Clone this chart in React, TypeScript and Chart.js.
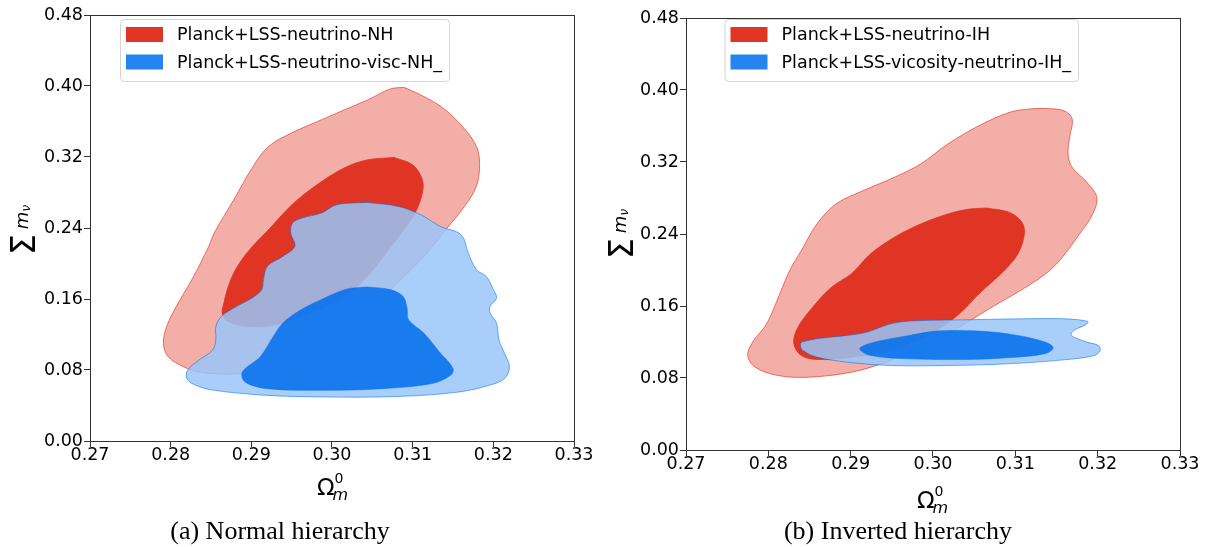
import React, { useEffect, useRef } from "react";
import { Chart, registerables } from "chart.js";

Chart.register(...registerables);

type Pt = [number, number];

// ---------- tick labels ----------
const xTicks = [0.27, 0.28, 0.29, 0.3, 0.31, 0.32, 0.33];
const yTicks = [0, 0.08, 0.16, 0.24, 0.32, 0.4, 0.48];

// ---------- legends / captions ----------
const nhLegend = ["Planck+LSS-neutrino-NH", "Planck+LSS-neutrino-visc-NH_"];
const ihLegend = ["Planck+LSS-neutrino-IH", "Planck+LSS-vicosity-neutrino-IH_"];
const captions = ["(a) Normal hierarchy", "(b) Inverted hierarchy"];

// ---------- contour outlines (Omega_m, sum m_nu) ----------
const nhRedOuter: Pt[] = [
  [0.3089, 0.3985], [0.311, 0.39], [0.3138, 0.375], [0.3164, 0.352], [0.3179, 0.332],
  [0.3183, 0.313], [0.3179, 0.287], [0.3164, 0.264], [0.3141, 0.238], [0.3112, 0.206],
  [0.3063, 0.163], [0.3015, 0.129], [0.2968, 0.1025], [0.293, 0.0855], [0.2892, 0.0768],
  [0.2868, 0.0753], [0.2835, 0.0779], [0.2816, 0.0836], [0.2797, 0.0949], [0.2791, 0.11],
  [0.2795, 0.129], [0.2807, 0.1517], [0.2826, 0.1814], [0.2847, 0.2189], [0.2854, 0.2344],
  [0.2878, 0.2715], [0.2902, 0.3091], [0.2921, 0.3316], [0.2949, 0.3467], [0.2977, 0.358],
  [0.3015, 0.373], [0.3044, 0.3842], [0.3072, 0.3966],
];
const nhRedInner: Pt[] = [
  [0.3077, 0.3195], [0.31, 0.3112], [0.3112, 0.2944], [0.3112, 0.2793], [0.3103, 0.257],
  [0.3086, 0.2343], [0.3067, 0.2118], [0.3044, 0.1856], [0.3015, 0.163], [0.2968, 0.1422],
  [0.293, 0.1309], [0.2897, 0.129], [0.2871, 0.1347], [0.2864, 0.1442], [0.2866, 0.1555],
  [0.287, 0.1701], [0.2877, 0.1871], [0.2888, 0.204], [0.2903, 0.2209], [0.2921, 0.2377],
  [0.295, 0.2659], [0.2981, 0.2885], [0.3015, 0.3076], [0.3043, 0.3166],
];
const nhBlueOuter: Pt[] = [
  [0.3044, 0.2688], [0.3082, 0.2643], [0.311, 0.255], [0.3134, 0.2419], [0.316, 0.2325],
  [0.3169, 0.2118], [0.3179, 0.193], [0.3191, 0.1857], [0.32, 0.1706], [0.3204, 0.1612],
  [0.3196, 0.1517], [0.3196, 0.1442], [0.3204, 0.1328], [0.3207, 0.1139], [0.3214, 0.0987],
  [0.322, 0.0836], [0.3214, 0.0704], [0.3195, 0.0628], [0.3157, 0.0552], [0.3086, 0.0503],
  [0.3001, 0.0495], [0.292, 0.0514], [0.2854, 0.0571], [0.2831, 0.0628], [0.282, 0.0704],
  [0.2821, 0.0798], [0.2835, 0.0912], [0.2852, 0.1025], [0.2856, 0.1139], [0.2856, 0.129],
  [0.2863, 0.1404], [0.2882, 0.1517], [0.2901, 0.1612], [0.2913, 0.1706], [0.2915, 0.182],
  [0.292, 0.197], [0.2939, 0.208], [0.2954, 0.2194], [0.2949, 0.2343], [0.2951, 0.2456],
  [0.2963, 0.2512], [0.2987, 0.2568], [0.3006, 0.2662],
];
const nhBlueInner: Pt[] = [
  [0.3044, 0.1736], [0.3072, 0.1706], [0.3088, 0.163], [0.3093, 0.15], [0.3095, 0.1366],
  [0.3114, 0.1214], [0.3133, 0.1006], [0.315, 0.0817], [0.3147, 0.0741], [0.3124, 0.0647],
  [0.3063, 0.059], [0.2991, 0.0571], [0.292, 0.059], [0.2892, 0.0666], [0.2889, 0.0779],
  [0.2911, 0.0949], [0.2927, 0.1176], [0.2939, 0.1328], [0.2958, 0.146], [0.2991, 0.1612],
  [0.3019, 0.1713],
];

const ihRedOuter: Pt[] = [
  [0.3136, 0.3796], [0.3159, 0.377], [0.3169, 0.3678], [0.3166, 0.3474], [0.3164, 0.3289],
  [0.3169, 0.3141], [0.3187, 0.2974], [0.3199, 0.2807], [0.3194, 0.2622], [0.3178, 0.24],
  [0.315, 0.2067], [0.3125, 0.188], [0.3065, 0.1551], [0.3018, 0.1291], [0.2971, 0.1087],
  [0.2943, 0.0976], [0.2901, 0.0865], [0.2849, 0.0809], [0.2812, 0.0827], [0.2784, 0.092],
  [0.2775, 0.105], [0.2781, 0.1199], [0.2798, 0.1403], [0.2814, 0.1737], [0.2826, 0.1996],
  [0.284, 0.2215], [0.2859, 0.2511], [0.2882, 0.2733], [0.2915, 0.2881], [0.2953, 0.303],
  [0.2985, 0.3178], [0.3018, 0.34], [0.3056, 0.3604], [0.3093, 0.3752], [0.3117, 0.3789],
];
const ihRedInner: Pt[] = [
  [0.3065, 0.2689], [0.3093, 0.264], [0.3108, 0.253], [0.3111, 0.24], [0.3103, 0.2178],
  [0.3085, 0.198], [0.3056, 0.1737], [0.3032, 0.1514], [0.3004, 0.1328], [0.2971, 0.118],
  [0.2939, 0.1087], [0.2896, 0.1024], [0.2859, 0.1006], [0.284, 0.105], [0.2831, 0.118],
  [0.2835, 0.1347], [0.2854, 0.1588], [0.2877, 0.1811], [0.2901, 0.1959], [0.2924, 0.2178],
  [0.2953, 0.2363], [0.2985, 0.2511], [0.3018, 0.2622], [0.3042, 0.2674],
];
const ihBlueOuter: Pt[] = [
  [0.284, 0.1199], [0.2859, 0.1236], [0.2896, 0.1273], [0.292, 0.131], [0.2946, 0.1395],
  [0.2971, 0.1432], [0.3042, 0.1447], [0.3112, 0.1458], [0.3159, 0.1458], [0.3188, 0.1429],
  [0.3186, 0.1395], [0.3171, 0.1328], [0.3168, 0.1273], [0.3187, 0.1199], [0.3201, 0.1161],
  [0.3203, 0.1106], [0.3196, 0.105], [0.3159, 0.1002], [0.3089, 0.0957], [0.3018, 0.0939],
  [0.2948, 0.0939], [0.2896, 0.0976], [0.2859, 0.1032], [0.2842, 0.1106], [0.2839, 0.1162],
];
const ihBlueInner: Pt[] = [
  [0.3032, 0.1328], [0.3065, 0.1317], [0.3103, 0.1273], [0.3136, 0.1199], [0.3146, 0.1135],
  [0.3136, 0.1069], [0.3089, 0.1024], [0.3042, 0.1006], [0.2971, 0.1013], [0.2924, 0.105],
  [0.2911, 0.1124], [0.2924, 0.1187], [0.2971, 0.1273], [0.3004, 0.1321],
];

// ---------- styling ----------
const RED = "rgb(224,52,36)";
const RED_LIGHT = "rgb(243,174,167)";
const BLUE = "rgba(0,111,237,0.85)";
const BLUE_LIGHT = "rgba(153,197,248,0.85)";
const SPINE = "#333333";
const SANS = "'DejaVu Sans', sans-serif";

const W = 603;
const H = 547;

interface Panel {
  offsetX: number;
  area: { l: number; r: number; t: number; b: number };
  polys: { redOuter: Pt[]; redInner: Pt[]; blueOuter: Pt[]; blueInner: Pt[] };
  legend: string[];
  legendDx: number;
  legendDy: number;
  yTitle: { x: number; y: number };
  xTitle: { x: number; base: number; supBase: number; subBase: number };
}

const panels: Panel[] = [
  {
    offsetX: 0,
    area: { l: 90, r: 574, t: 15, b: 441 },
    polys: { redOuter: nhRedOuter, redInner: nhRedInner, blueOuter: nhBlueOuter, blueInner: nhBlueInner },
    legend: nhLegend,
    legendDx: 30,
    legendDy: 4,
    yTitle: { x: 35, y: 255 },
    xTitle: { x: 317, base: 495, supBase: 483, subBase: 500 },
  },
  {
    offsetX: 603,
    area: { l: 83, r: 577, t: 18, b: 450 },
    polys: { redOuter: ihRedOuter, redInner: ihRedInner, blueOuter: ihBlueOuter, blueInner: ihBlueInner },
    legend: ihLegend,
    legendDx: 38.5,
    legendDy: 1,
    yTitle: { x: 30, y: 259 },
    xTitle: { x: 314, base: 508, supBase: 496, subBase: 513 },
  },
];

function toData(poly: Pt[]) {
  const pts = poly.map(([x, y]) => ({ x, y }));
  pts.push({ x: poly[0][0], y: poly[0][1] });
  return pts;
}

function contour(poly: Pt[], bg: string, border: string, bw: number, order: number) {
  return {
    data: toData(poly),
    showLine: true,
    fill: "shape",
    backgroundColor: bg,
    borderColor: border,
    borderWidth: bw,
    pointRadius: 0,
    pointHoverRadius: 0,
    tension: 0.35,
    order,
  };
}

function roundRect(ctx: CanvasRenderingContext2D, x: number, y: number, w: number, h: number, r: number) {
  ctx.beginPath();
  ctx.moveTo(x + r, y);
  ctx.lineTo(x + w - r, y);
  ctx.arcTo(x + w, y, x + w, y + r, r);
  ctx.lineTo(x + w, y + h - r);
  ctx.arcTo(x + w, y + h, x + w - r, y + h, r);
  ctx.lineTo(x + r, y + h);
  ctx.arcTo(x, y + h, x, y + h - r, r);
  ctx.lineTo(x, y + r);
  ctx.arcTo(x, y, x + r, y, r);
  ctx.closePath();
}

function decorPlugin(p: Panel) {
  return {
    id: "decor",
    afterDatasetsDraw(chart: any) {
      const ctx: CanvasRenderingContext2D = chart.ctx;
      const a = chart.chartArea;
      ctx.save();
      // frame (all four spines)
      const al = (v: number) => Math.round(v - 0.5) + 0.5;
      ctx.strokeStyle = SPINE;
      ctx.lineWidth = 1;
      ctx.strokeRect(al(a.left), al(a.top), al(a.right) - al(a.left), al(a.bottom) - al(a.top));

      // legend
      const bx = a.left + p.legendDx;
      const by = a.top + p.legendDy;
      ctx.font = `17.5px ${SANS}`;
      const tw = Math.max(...p.legend.map((t) => ctx.measureText(t).width));
      const textX = bx + 57;
      const bw = textX - bx + tw + 7;
      const bh = 62;
      roundRect(ctx, bx + 0.5, by + 0.5, bw, bh, 4);
      ctx.fillStyle = "rgba(255,255,255,0.8)";
      ctx.fill();
      ctx.strokeStyle = "#d4d4d4";
      ctx.lineWidth = 1;
      ctx.stroke();
      const rows = [by + 15.5, by + 43];
      const cols = [RED, BLUE];
      rows.forEach((yc, i) => {
        ctx.fillStyle = cols[i];
        ctx.fillRect(bx + 6, yc - 7.5, 37, 15);
        ctx.fillStyle = "#000";
        ctx.textBaseline = "middle";
        ctx.textAlign = "left";
        ctx.fillText(p.legend[i], textX, yc + 1);
      });

      // x title: Omega_m^0
      ctx.fillStyle = "#000";
      ctx.textBaseline = "alphabetic";
      ctx.textAlign = "left";
      ctx.font = `23px ${SANS}`;
      ctx.fillText("Ω", p.xTitle.x, p.xTitle.base);
      const ow = ctx.measureText("Ω").width;
      ctx.font = `14px ${SANS}`;
      ctx.fillText("0", p.xTitle.x + ow, p.xTitle.supBase);
      ctx.font = `italic 16px ${SANS}`;
      ctx.fillText("m", p.xTitle.x + ow - 2, p.xTitle.subBase);

      // y title: sum m_nu (rotated)
      ctx.save();
      ctx.translate(p.yTitle.x, p.yTitle.y);
      ctx.rotate(-Math.PI / 2);
      ctx.font = `33px ${SANS}`;
      ctx.fillText("Σ", 0, 0);
      const sw = ctx.measureText("Σ").width;
      ctx.font = `italic 18px ${SANS}`;
      ctx.fillText("m", sw + 5, -7);
      const mw = ctx.measureText("m").width;
      ctx.font = `italic 12px ${SANS}`;
      ctx.fillText("ν", sw + 5 + mw, -5);
      ctx.restore();

      ctx.restore();
    },
  };
}

function buildConfig(p: Panel): any {
  const { l, r, t, b } = p.area;
  const xH = 30;
  return {
    type: "scatter",
    data: {
      datasets: [
        contour(p.polys.blueInner, BLUE, "rgba(0,111,237,0.6)", 0.8, 1),
        contour(p.polys.blueOuter, BLUE_LIGHT, "rgba(0,111,237,0.55)", 1, 2),
        contour(p.polys.redInner, RED, RED, 0.8, 3),
        contour(p.polys.redOuter, RED_LIGHT, "rgba(224,52,36,0.65)", 1, 4),
      ],
    },
    options: {
      responsive: false,
      maintainAspectRatio: false,
      animation: false,
      events: [],
      layout: { padding: { left: 0, top: t, right: W - r, bottom: H - b - xH } },
      plugins: { legend: { display: false }, tooltip: { enabled: false } },
      scales: {
        x: {
          type: "linear",
          min: xTicks[0],
          max: xTicks[xTicks.length - 1],
          afterBuildTicks: (s: any) => {
            s.ticks = xTicks.map((v) => ({ value: v }));
          },
          afterFit: (s: any) => {
            s.height = xH;
          },
          ticks: {
            callback: (v: any) => Number(v).toFixed(2),
            font: { family: SANS, size: 17.5, lineHeight: 1 },
            color: "#000",
            padding: 0,
            maxRotation: 0,
            autoSkip: false,
          },
          grid: { drawOnChartArea: false, drawTicks: true, tickLength: 6, tickColor: SPINE, tickWidth: 1 },
          border: { display: false },
        },
        y: {
          type: "linear",
          min: yTicks[0],
          max: yTicks[yTicks.length - 1],
          afterBuildTicks: (s: any) => {
            s.ticks = yTicks.map((v) => ({ value: v }));
          },
          afterFit: (s: any) => {
            s.width = l;
          },
          ticks: {
            callback: (v: any) => Number(v).toFixed(2),
            font: { family: SANS, size: 17.5, lineHeight: 1 },
            color: "#000",
            padding: 1,
            autoSkip: false,
          },
          grid: { drawOnChartArea: false, drawTicks: true, tickLength: 6, tickColor: SPINE, tickWidth: 1 },
          border: { display: false },
        },
      },
    },
    plugins: [decorPlugin(p)],
  };
}

function ContourPanel({ panel }: { panel: Panel }) {
  const ref = useRef<HTMLCanvasElement>(null);
  useEffect(() => {
    if (!ref.current) return;
    const chart = new Chart(ref.current, buildConfig(panel));
    return () => chart.destroy();
  }, [panel]);
  return (
    <canvas
      ref={ref}
      width={W}
      height={H}
      style={{ position: "absolute", left: panel.offsetX, top: 0, width: W, height: H, display: "block" }}
    />
  );
}

const captionCenters = [280, 898];

export default function App() {
  return (
    <div style={{ position: "absolute", left: 0, top: 0, width: 1206, height: 547, background: "#fff", overflow: "hidden" }}>
      {panels.map((p, i) => (
        <ContourPanel key={i} panel={p} />
      ))}
      {captions.map((c, i) => (
        <div
          key={c}
          style={{
            position: "absolute",
            left: captionCenters[i] - 200,
            top: 518,
            width: 400,
            textAlign: "center",
            fontFamily: "'Liberation Serif', serif",
            fontSize: 26,
            lineHeight: "26px",
            color: "#000",
            whiteSpace: "nowrap",
          }}
        >
          {c}
        </div>
      ))}
    </div>
  );
}
